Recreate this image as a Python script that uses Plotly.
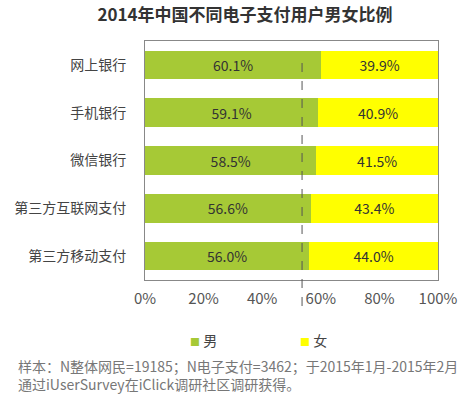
import plotly.graph_objects as go

categories = ["网上银行", "手机银行", "微信银行", "第三方互联网支付", "第三方移动支付"]
male = [60.1, 59.1, 58.5, 56.6, 56.0]
female = [39.9, 40.9, 41.5, 43.4, 44.0]
x_ticks = [0, 20, 40, 60, 80, 100]
x_tick_labels = ["0%", "20%", "40%", "60%", "80%", "100%"]
ref_line = 53.6

GREEN = "#A6C936"
YELLOW = "#FFFF00"
FONT = "Noto Sans CJK SC"

W, H = 474, 398
L, T, R, B = 145, 41, 36, 118
PW, PH = W - L - R, H - T - B


def px(x):
    return (x - L) / PW


def py(y):
    return (H - B - y) / PH


fig = go.Figure()
fig.add_trace(go.Bar(
    y=categories, x=male, orientation="h", name="男",
    marker=dict(color=GREEN, line=dict(width=0)),
    text=[f"{v:.1f}%" for v in male], textposition="inside",
    insidetextanchor="middle", textangle=0,
    textfont=dict(color="#333333", size=14, family=FONT),
))
fig.add_trace(go.Bar(
    y=categories, x=female, orientation="h", name="女",
    marker=dict(color=YELLOW, line=dict(width=0)),
    text=[f"{v:.1f}%" for v in female], textposition="inside",
    insidetextanchor="middle", textangle=0,
    textfont=dict(color="#333333", size=14, family=FONT),
))

fig.add_shape(type="line", xref="x", yref="paper", x0=ref_line, x1=ref_line,
              y0=py(63), y1=py(307), line=dict(color="#555555", width=1, dash="dash"))

fig.update_layout(
    width=W, height=H,
    margin=dict(l=L, r=R, t=T, b=B, pad=0),
    barmode="stack", bargap=0.4,
    plot_bgcolor="white", paper_bgcolor="white",
    showlegend=False,
    font=dict(family=FONT, color="#444444"),
    title=dict(text="<b>2014年中国不同电子支付用户男女比例</b>", x=245 / W, xanchor="center",
               y=1 - 15 / H, yanchor="middle", font=dict(size=17, color="#333333", family=FONT)),
    xaxis=dict(range=[0, 100], tickvals=x_ticks, ticktext=x_tick_labels,
               showgrid=False, zeroline=False, showline=True, mirror=True,
               linecolor="#888888", linewidth=1, ticks="",
               tickfont=dict(size=15, color="#555555", family=FONT), ticklabelstandoff=5,
               fixedrange=True),
    yaxis=dict(categoryorder="array", categoryarray=categories[::-1],
               showgrid=False, zeroline=False, showline=True, mirror=True,
               linecolor="#888888", linewidth=1, ticks="",
               tickfont=dict(size=14, color="#444444", family=FONT), ticklabelstandoff=15,
               fixedrange=True),
)

# legend drawn as annotations
for x0, col, lab in [(188, GREEN, "男"), (298, YELLOW, "女")]:
    fig.add_annotation(xref="paper", yref="paper", x=px(x0), y=py(340),
                       xanchor="left", yanchor="middle", showarrow=False,
                       text=f"<span style='color:{col};font-size:10px'>■</span> {lab}",
                       font=dict(size=14, color="#444444", family=FONT))

notes = ["样本：N整体网民=19185；N电子支付=3462；于2015年1月-2015年2月",
         "通过iUserSurvey在iClick调研社区调研获得。"]
fig.add_annotation(xref="paper", yref="paper", x=px(16), y=py(375),
                   xanchor="left", yanchor="middle", showarrow=False, align="left",
                   text="<br>".join(notes), font=dict(size=14, color="#777777", family=FONT))

fig.write_html("out.html", config={"displayModeBar": False},
               post_script="document.body.style.margin='0';document.body.style.overflow='hidden';")
